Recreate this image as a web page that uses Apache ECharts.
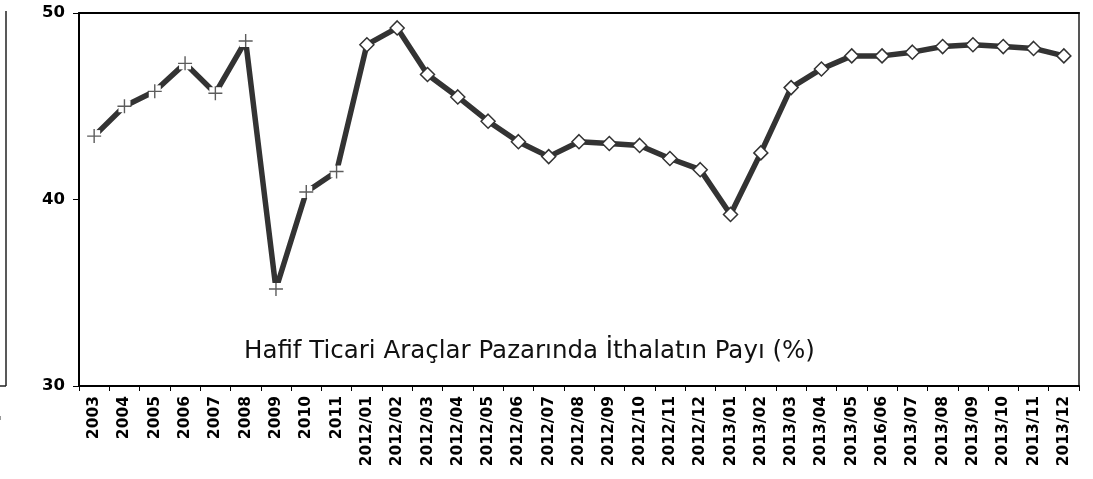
<!DOCTYPE html>
<html>
<head>
<meta charset="utf-8">
<title>Hafif Ticari Araçlar Pazarında İthalatın Payı</title>
<script src="https://cdn.jsdelivr.net/npm/echarts@6/dist/echarts.min.js"></script>
<style>
  html, body { margin: 0; padding: 0; background: #fff; }
  #chart { width: 1093px; height: 479px; }
</style>
</head>
<body>
<div id="chart"></div>
<script>
// Annual figures (2003–2011), shown with "+" markers
const annualLabels = ['2003', '2004', '2005', '2006', '2007', '2008', '2009', '2010', '2011'];
const annualShare = [43.4, 45.0, 45.8, 47.3, 45.7, 48.5, 35.2, 40.4, 41.5];

// Monthly figures (2012/01–2013/12), shown with diamond markers
const monthlyLabels = [
  '2012/01', '2012/02', '2012/03', '2012/04', '2012/05', '2012/06',
  '2012/07', '2012/08', '2012/09', '2012/10', '2012/11', '2012/12',
  '2013/01', '2013/02', '2013/03', '2013/04', '2013/05', '2016/06',
  '2013/07', '2013/08', '2013/09', '2013/10', '2013/11', '2013/12'
];
const monthlyShare = [
  48.3, 49.2, 46.7, 45.5, 44.2, 43.1, 42.3, 43.1, 43.0, 42.9, 42.2, 41.6,
  39.2, 42.5, 46.0, 47.0, 47.7, 47.7, 47.9, 48.2, 48.3, 48.2, 48.1, 47.7
];

// Value axis ticks
const yTicks = { min: 30, max: 50, step: 10 };

const titleText = 'Hafif Ticari Araçlar Pazarında İthalatın Payı (%)';

const categories = annualLabels.concat(monthlyLabels);
const FONT = "'DejaVu Sans', Verdana, sans-serif";
const LINE = '#333333';
const PLUS = 'path://M0 9 L20 9 L20 11 L0 11 Z M9 0 L11 0 L11 20 L9 20 Z';

// One continuous line; annual points get a white square that clears the line
// under the "+" glyph, monthly points get white diamonds.
const lineData = annualShare.map(v => ({
  value: v,
  symbol: 'rect',
  symbolSize: 12,
  itemStyle: { color: '#fff', borderColor: '#fff', borderWidth: 0 }
})).concat(monthlyShare.map(v => ({
  value: v,
  symbol: 'diamond',
  symbolSize: 14,
  itemStyle: { color: '#fff', borderColor: LINE, borderWidth: 1.5 }
})));

const chart = echarts.init(document.getElementById('chart'), null, { renderer: 'canvas' });

chart.setOption({
  animation: false,
  backgroundColor: '#fff',
  title: {
    text: titleText,
    left: 239,
    top: 334,
    textStyle: { fontFamily: FONT, fontSize: 24.5, fontWeight: 'normal', color: '#111' }
  },
  grid: { left: 79, right: 14, top: 13, bottom: 93, containLabel: false },
  xAxis: [
    {
      type: 'category',
      data: categories,
      boundaryGap: true,
      axisLine: { onZero: false, lineStyle: { color: '#000', width: 2 } },
      axisTick: { show: true, length: 5, lineStyle: { color: '#000', width: 1 } },
      axisLabel: {
        interval: 0, rotate: 90, margin: 10,
        fontFamily: FONT, fontSize: 15.5, fontWeight: 'bold', color: '#000'
      },
      splitLine: { show: false }
    },
    {
      type: 'category',
      data: categories,
      position: 'top',
      boundaryGap: true,
      axisLine: { onZero: false, lineStyle: { color: '#000', width: 2 } },
      axisTick: { show: false },
      axisLabel: { show: false },
      splitLine: { show: false }
    }
  ],
  yAxis: [
    {
      type: 'value',
      min: yTicks.min,
      max: yTicks.max,
      interval: yTicks.step,
      axisLine: { show: true, onZero: false, lineStyle: { color: '#000', width: 2 } },
      axisTick: { show: true, length: 6, lineStyle: { color: '#000', width: 1 } },
      axisLabel: { margin: 14, fontFamily: FONT, fontSize: 16.5, fontWeight: 'bold', color: '#000' },
      splitLine: { show: false }
    },
    {
      type: 'value',
      position: 'right',
      min: yTicks.min,
      max: yTicks.max,
      interval: yTicks.step,
      axisLine: { show: true, onZero: false, lineStyle: { color: '#555', width: 2 } },
      axisTick: { show: false },
      axisLabel: { show: false },
      splitLine: { show: false }
    }
  ],
  series: [
    {
      name: 'İthalatın Payı',
      type: 'line',
      xAxisIndex: 0,
      yAxisIndex: 0,
      data: lineData,
      showAllSymbol: true,
      lineStyle: { color: LINE, width: 5.5 },
      itemStyle: { color: '#fff', borderColor: LINE, borderWidth: 1.5 },
      z: 2
    },
    {
      name: 'Yıllık',
      type: 'scatter',
      xAxisIndex: 0,
      yAxisIndex: 0,
      data: annualShare,
      symbol: PLUS,
      symbolSize: 14,
      itemStyle: { color: LINE },
      z: 3
    }
  ],
  // Edge of the neighbouring panel on the far left
  graphic: [
    { type: 'line', shape: { x1: 6, y1: 11, x2: 6, y2: 386 }, style: { stroke: '#222', lineWidth: 1.5 } },
    { type: 'line', shape: { x1: 0, y1: 386, x2: 6, y2: 386 }, style: { stroke: '#222', lineWidth: 1.5 } },
    { type: 'rect', shape: { x: 0, y: 416, width: 1, height: 4 }, style: { fill: '#999' } }
  ]
});
</script>
</body>
</html>
